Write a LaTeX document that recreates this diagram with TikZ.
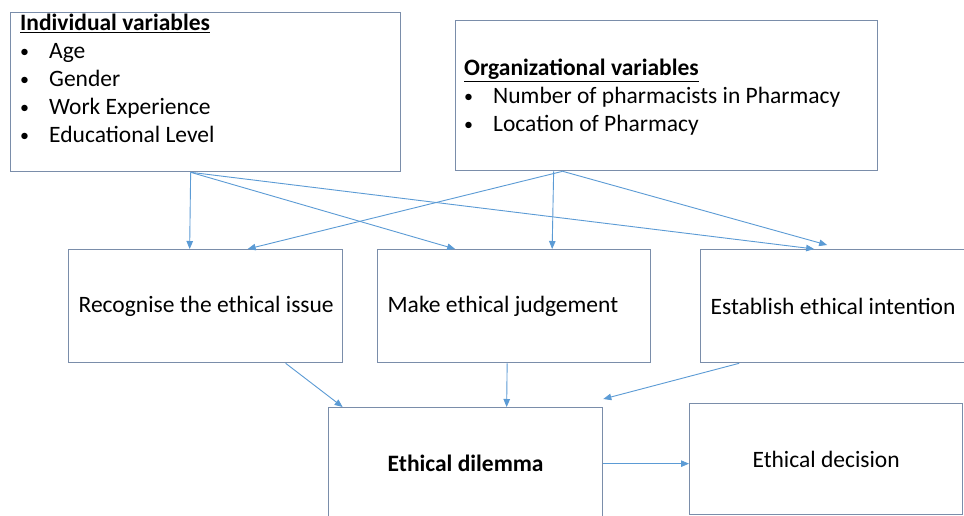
\documentclass[tikz,border=0pt]{standalone}
\usepackage{fontspec}
\setmainfont{Carlito}
\usetikzlibrary{arrows.meta}
\definecolor{boxline}{HTML}{7A8DAA}
\definecolor{arrline}{HTML}{5B9BD5}
\newcommand{\bulletitem}[1]{\makebox[29pt][l]{\raisebox{1.5pt}{\fontsize{18}{18}\selectfont\textbullet}}#1}

\begin{document}
\begin{tikzpicture}[x=1pt,y=-1pt,
	box/.style={draw=boxline,line width=1.3pt,anchor=north west,inner xsep=10pt,font=\fontsize{23.5}{28}\selectfont},
	txt/.style={anchor=north west,inner sep=0pt,align=left,font=\fontsize{23.5}{28}\selectfont},
	arr/.style={draw=arrline,line width=0.9pt,-{Triangle[length=8pt,width=6.5pt]}}]
	\useasboundingbox (0,0) rectangle (964,515);
	\clip (0,0) rectangle (964,515);
	\fill[white] (0,0) rectangle (964,515);
	\node[box,minimum width=390pt,minimum height=159pt] (indiv) at (10,12) {};
	\node[box,minimum width=422pt,minimum height=150pt] (org) at (455,20) {};
	\node[txt] (indivtxt) at ([shift={(10,2)}]indiv.north west) {\underline{\textbf{Individual variables}}\\
		\bulletitem{Age}\\
		\bulletitem{Gender}\\
		\bulletitem{Work Experience}\\
		\bulletitem{Educational Level}};
	\node[txt] (orgtxt) at ([shift={(9,39)}]org.north west) {\underline{\textbf{Organizational variables}}\\
		\bulletitem{Number of pharmacists in Pharmacy}\\
		\bulletitem{Location of Pharmacy}};
	\node[box,minimum height=113pt] (rec) at (68,249) {\makebox[254pt][l]{Recognise the ethical issue}};
	\node[box,minimum height=113pt] (judge) at (377,249) {\makebox[253pt][l]{Make ethical judgement}};
	\node[box,minimum height=113pt] (intent) at (700,249) {\makebox[255pt][l]{Establish ethical intention}};
	\node[box,minimum width=274pt,minimum height=112pt] (dilemma) at (328,407) {\textbf{Ethical dilemma}};
	\node[box,minimum width=273pt,minimum height=111pt] (decision) at (689,403) {Ethical decision};
	\draw[arr] ([xshift=-15pt]indiv.south) -- ([xshift=-16pt]rec.north);
	\draw[arr] ([xshift=-15pt]indiv.south) -- ([xshift=-59pt]judge.north);
	\draw[arr] ([xshift=-15pt]indiv.south) -- ([xshift=-24pt]intent.north);
	\draw[arr] ([xshift=-104pt]org.south) -- ([xshift=42pt]rec.north);
	\draw[arr] ([xshift=-113pt]org.south) -- ([xshift=38pt]judge.north);
	\draw[arr] ([xshift=-104pt]org.south) -- ([shift={(-11,-4)}]intent.north);
	\draw[arr] ([xshift=80pt]rec.south) -- ([xshift=-123pt]dilemma.north);
	\draw[arr] ([xshift=-7pt]judge.south) -- ([xshift=41pt]dilemma.north);
	\draw[arr] ([xshift=-99pt]intent.south) -- ([yshift=8pt]dilemma.north east);
	\draw[arr] (dilemma.east) -- (dilemma.east -| decision.west);
\end{tikzpicture}
\end{document}
